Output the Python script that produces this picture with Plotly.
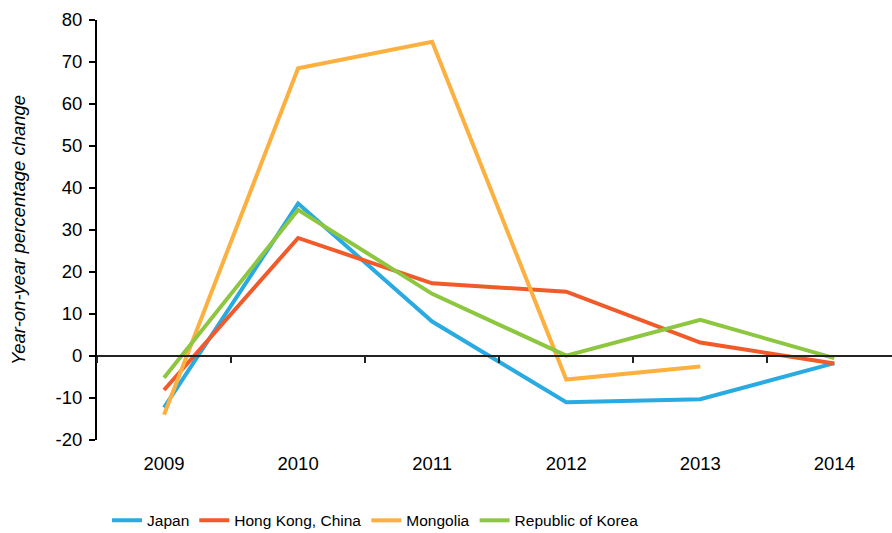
import plotly.graph_objects as go

# data
years = ['2009', '2010', '2011', '2012', '2013', '2014']
japan = [-12.3, 36.3, 8.2, -11.0, -10.3, -1.7]
hong_kong = [-8.1, 28.1, 17.3, 15.3, 3.2, -1.8]
mongolia = [-14.0, 68.5, 74.8, -5.6, -2.5, None]
korea = [-5.2, 34.8, 14.8, 0.1, 8.6, -0.5]

y_ticks = [-20, -10, 0, 10, 20, 30, 40, 50, 60, 70, 80]
y_tick_labels = ['-20', '-10', '0', '10', '20', '30', '40', '50', '60', '70', '80']

series = [
    ('Japan', japan, '#29ABE2'),
    ('Hong Kong, China', hong_kong, '#F15A29'),
    ('Mongolia', mongolia, '#FBB040'),
    ('Republic of Korea', korea, '#8DC63F'),
]

font_family = 'Liberation Sans, Arial, sans-serif'

fig = go.Figure()
for name, vals, col in series:
    fig.add_trace(go.Scatter(
        x=years, y=vals, name=name, mode='lines',
        line=dict(color=col, width=4),
        connectgaps=False,
    ))

# dummy trace so the zero-line axis (x2) is drawn
fig.add_trace(go.Scatter(x=years, y=[None] * len(years), xaxis='x2',
                         showlegend=False, hoverinfo='skip'))

y_min, y_max = -20, 80
x_range = [-0.5, 5.43]

fig.update_layout(
    width=892, height=533,
    plot_bgcolor='white', paper_bgcolor='white',
    margin=dict(l=97, r=0, t=20, b=93),
    font=dict(family=font_family, size=18.5, color='black'),
    showlegend=True,
    legend=dict(
        orientation='h', x=0.12, xanchor='left', xref='container',
        y=0.023, yanchor='middle', yref='container',
        font=dict(size=15.5), itemwidth=30, tracegroupgap=0,
    ),
    xaxis=dict(
        type='category', range=x_range, showgrid=False, zeroline=False,
        showline=False, ticks='outside', ticklen=7,
        tickcolor='rgba(0,0,0,0)', tickfont=dict(size=18.5),
    ),
    xaxis2=dict(
        type='category', overlaying='x', matches='x', anchor='free',
        position=(0 - y_min) / (y_max - y_min), side='bottom',
        showline=True, linecolor='#222', linewidth=1.5,
        ticks='outside', tickson='boundaries', ticklen=6, tickwidth=1.5,
        tickcolor='#222', showticklabels=False, showgrid=False,
    ),
    yaxis=dict(
        range=[y_min, y_max], tickvals=y_ticks, ticktext=y_tick_labels,
        showgrid=False, zeroline=False,
        showline=True, linecolor='black', linewidth=2,
        ticks='outside', ticklen=6, tickwidth=1.5, tickcolor='black',
        tickfont=dict(size=18.5), ticklabelstandoff=3,
        title=dict(text='<i>Year-on-year percentage change</i>',
                   font=dict(size=18.5), standoff=25),
    ),
)

fig.write_html('out.html', config={'displayModeBar': False},
               post_script="document.body.style.margin='0';")
